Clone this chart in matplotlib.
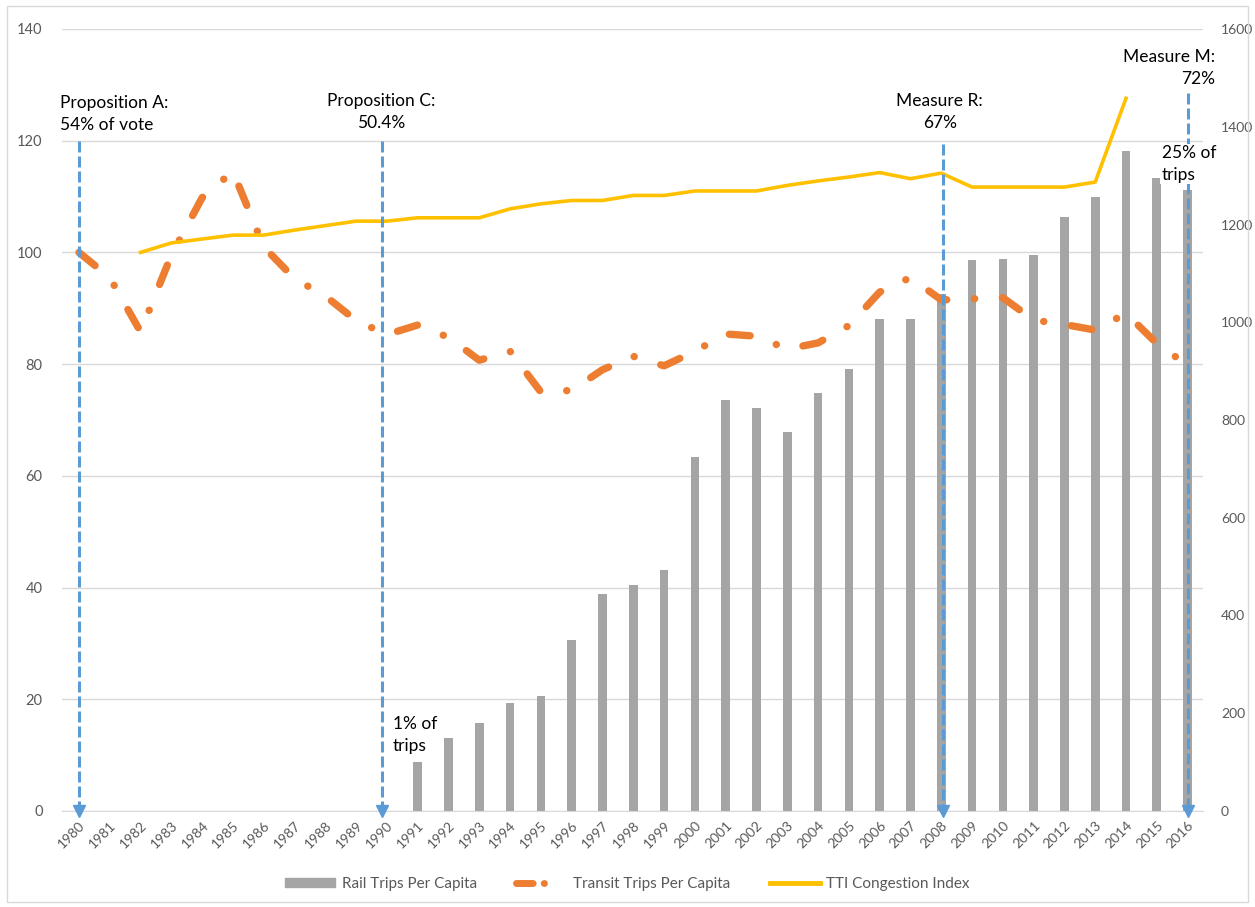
import matplotlib
matplotlib.use("Agg")
import matplotlib.pyplot as plt
from matplotlib.patches import Patch, Rectangle
from matplotlib.lines import Line2D
import numpy as np

# donnees
years = list(range(1980, 2017))
rail = [0, 0, 0, 0, 0, 0, 0, 0, 0, 0, 0,
        8.8, 13.1, 15.8, 19.3, 20.6, 30.6, 38.8, 40.5, 43.1, 63.3,
        73.6, 72.1, 67.8, 74.9, 79.1, 88.0, 88.1, 92.6, 98.6, 98.8,
        99.5, 106.3, 109.9, 118.1, 113.4, 111.2]
transit = [100, 95.5, 85.8, 99.5, 109.8, 114.5, 101.0, 95.3, 92.2, 87.8,
           85.3, 87.0, 84.8, 80.7, 82.3, 75.0, 75.3, 79.0, 81.4, 79.7,
           82.3, 85.4, 85.0, 82.7, 83.8, 86.9, 92.9, 95.5, 91.5, 91.7,
           91.9, 87.9, 87.1, 86.1, 89.1, 83.7, 79.8]
tti = [np.nan, np.nan, 100.0, 101.7, 102.4, 103.1, 103.1, 104.0, 104.8, 105.6,
       105.6, 106.2, 106.2, 106.2, 107.8, 108.7, 109.3, 109.3, 110.2, 110.2,
       111.0, 111.0, 111.0, 112.0, 112.8, 113.5, 114.3, 113.2, 114.2, 111.7,
       111.7, 111.7, 111.7, 112.6, 127.6, np.nan, np.nan]
labels = ["Rail Trips Per Capita", "Transit Trips Per Capita", "TTI Congestion Index"]
notes = ["Proposition A:\n54% of vote", "Proposition C:\n50.4%", "Measure R:\n67%",
         "Measure M:\n72%", "25% of\ntrips", "1% of\ntrips"]

GRAY = "#A5A5A5"
ORANGE = "#ED7D31"
YELLOW = "#FFC000"
BLUE = "#5B9BD5"
TXT = "#595959"

plt.rcParams['font.family'] = ['Lato', 'DejaVu Sans']
plt.rcParams['lines.scale_dashes'] = False

fig = plt.figure(figsize=(12.55, 9.07), dpi=100)
ax = fig.add_axes([62/1255, 1-811/907, (1203-62)/1255, (811-29)/907])
x = np.arange(len(years))

ax.bar(x, rail, width=0.28, color=GRAY, zorder=2)
ax.plot(x, transit, color=ORANGE, lw=5.3, linestyle=(0, (15, 20, 0.1, 20)),
        dash_capstyle='round', zorder=3)
ax.plot(x, tti, color=YELLOW, lw=2.6, zorder=3)

# fleches bleues (votes)
for xi, top in [(0, 120), (9.85, 120), (28.05, 119.5), (36, 128.5)]:
    ax.plot([xi, xi], [top, 0.8], color=BLUE, lw=2.2, linestyle=(0, (7.9, 2.9)), zorder=4)
    ax.plot(xi, 0, marker='v', ms=9, color=BLUE, zorder=4, clip_on=False)

fs = 12.5
ax.text(-0.62, 124.8, notes[0], ha='left', va='center', fontsize=fs, linespacing=1.45)
ax.text(9.8, 125.1, notes[1], ha='center', va='center', fontsize=fs, linespacing=1.45)
ax.text(27.95, 125.1, notes[2], ha='center', va='center', fontsize=fs, linespacing=1.45)
ax.text(36.88, 133.0, notes[3], ha='right', va='center', fontsize=fs, linespacing=1.45,
        multialignment='right')
ax.text(35.16, 115.8, notes[4], ha='left', va='center', fontsize=fs, linespacing=1.45,
        zorder=5, bbox=dict(facecolor='white', edgecolor='none', pad=1))
ax.text(10.2, 13.6, notes[5], ha='left', va='center', fontsize=fs, linespacing=1.45)

ax.set_xlim(-0.55, 36.5)
ax.set_ylim(0, 140)
ax.set_yticks(range(0, 141, 20))
ax.set_xticks(x)
ax.set_xticklabels([str(y) for y in years], rotation=45, ha='right', va='top',
                   rotation_mode='anchor')
ax.grid(axis='y', color='#D9D9D9', lw=1)
ax.set_axisbelow(True)
for s in ['top', 'left', 'right']:
    ax.spines[s].set_visible(False)
ax.spines['bottom'].set_color('#D9D9D9')
ax.tick_params(axis='y', length=0, pad=14, labelsize=10.5, labelcolor=TXT)
ax.tick_params(axis='x', length=0, pad=6, labelsize=10, labelcolor=TXT)

ax2 = ax.twinx()
ax2.set_ylim(0, 1600)
ax2.set_yticks(range(0, 1601, 200))
for s in ax2.spines.values():
    s.set_visible(False)
ax2.tick_params(axis='y', length=0, pad=13, labelsize=10, labelcolor=TXT)

handles = [Patch(color=GRAY),
           Line2D([], [], color=ORANGE, lw=5, linestyle=(0, (12, 8, 0.1, 30)),
                  dash_capstyle='round'),
           Line2D([], [], color=YELLOW, lw=3.5)]
fig.legend(handles, labels, loc='center', bbox_to_anchor=(0.5, 1-884/907), ncol=3,
           frameon=False, fontsize=11, labelcolor=TXT, handlelength=3.3,
           handleheight=0.5, columnspacing=2.6, handletextpad=0.4)

fig.patches.append(Rectangle((7/1255, 5/907), 1241/1255, 896/907, transform=fig.transFigure,
                             fill=False, edgecolor='#D9D9D9', lw=1))

fig.savefig("out.png", dpi=100)
